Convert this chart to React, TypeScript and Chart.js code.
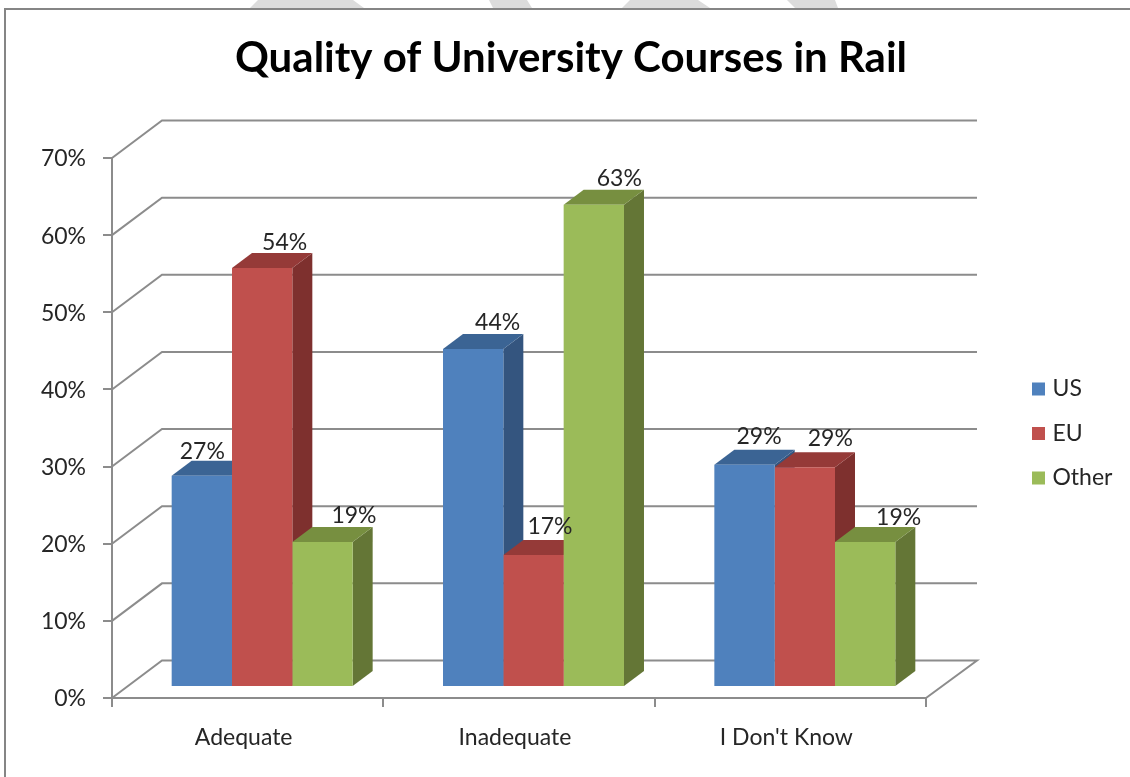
import React, { useEffect, useRef } from "react";
import { Chart, registerables } from "chart.js";

Chart.register(...registerables);

const categories = ["Adequate", "Inadequate", "I Don't Know"];
const seriesNames = ["US", "EU", "Other"];
const usValues = [27.4, 43.8, 28.8];
const euValues = [54.3, 17.1, 28.5];
const otherValues = [18.8, 62.5, 18.8];
const frontColors = ["#4f81bd", "#c0504d", "#9bbb59"];
const topColors = ["#3b6494", "#953a38", "#778f40"];
const sideColors = ["#34557f", "#7e302e", "#647636"];
const labelShiftX = [
  [0, 22, 31],
  [24, 16, 25],
  [14, 25, 33],
];
const labelShiftY = [
  [-24, -26, -26],
  [-27, -29, -26],
  [-28, -29, -24],
];

const GRID = "#8c8c8c";
const FONT = "Lato";
const TEXT = "#262626";

const watermarkPolys = [
  [[258, 0], [353, 0], [364, 8], [250, 8]],
  [[489, 0], [527, 0], [532, 8], [493, 8]],
  [[630, 0], [698, 0], [710, 8], [622, 8]],
  [[787, 0], [835, 0], [838, 8], [795, 8]],
];

const BAR_DX = 14.5;
const BAR_DY = -11;

const threeD = {
  id: "threeD",
  beforeLayout(chart: any) {
    const l = chart.legend;
    if (l && !l.__wrapped) {
      const f = l.fit.bind(l);
      l.fit = () => {
        f();
        l.width = 204;
      };
      l.__wrapped = true;
    }
  },
  afterLayout(chart: any) {
    const pad = chart.options.plugins.legend.labels.padding;
    chart.legend.left = 1036 - pad;
    chart.legend.top = 356;
    chart.legend.bottom = 700;
    chart.titleBlock.left = 6;
    chart.titleBlock.right = 1136;
  },
  beforeDraw(chart: any) {
    const ctx = chart.ctx;
    ctx.save();
    ctx.fillStyle = "#ffffff";
    ctx.fillRect(0, 0, chart.width, chart.height);
    ctx.fillStyle = "#dcdcdc";
    for (const p of watermarkPolys) {
      ctx.beginPath();
      p.forEach(([x, y], i) => (i ? ctx.lineTo(x, y) : ctx.moveTo(x, y)));
      ctx.closePath();
      ctx.fill();
    }
    ctx.strokeStyle = "#858585";
    ctx.lineWidth = 2;
    ctx.beginPath();
    ctx.moveTo(5, chart.height);
    ctx.lineTo(5, 9);
    ctx.lineTo(chart.width, 9);
    ctx.stroke();
    ctx.restore();
  },
  beforeDatasetsDraw(chart: any) {
    const ctx = chart.ctx;
    const yS = chart.scales.y;
    const { left, right } = chart.chartArea;
    const wallDx = 50;
    const wallDy = 37.5;
    ctx.save();
    ctx.strokeStyle = GRID;
    ctx.lineWidth = 2;
    for (const t of yS.ticks) {
      const y = yS.getPixelForValue(t.value);
      ctx.beginPath();
      ctx.moveTo(left, y);
      ctx.lineTo(left + wallDx, y - wallDy);
      ctx.lineTo(right + wallDx + 1, y - wallDy);
      if (t.value === 0) ctx.lineTo(right, y);
      ctx.stroke();
    }
    ctx.restore();

    const depthX = 20;
    const depthY = -15;
    ctx.save();
    ctx.translate(BAR_DX, BAR_DY);
    categories.forEach((_, c) => {
      seriesNames.forEach((__, s) => {
        const bar = chart.getDatasetMeta(s).data[c];
        const p = bar.getProps(["x", "y", "base", "width"], true);
        const l = p.x - p.width / 2;
        const r = p.x + p.width / 2;
        ctx.fillStyle = sideColors[s];
        ctx.beginPath();
        ctx.moveTo(r, p.y);
        ctx.lineTo(r + depthX, p.y + depthY);
        ctx.lineTo(r + depthX, p.base + depthY);
        ctx.lineTo(r, p.base);
        ctx.closePath();
        ctx.fill();
        ctx.fillStyle = topColors[s];
        ctx.beginPath();
        ctx.moveTo(l, p.y);
        ctx.lineTo(l + depthX, p.y + depthY);
        ctx.lineTo(r + depthX, p.y + depthY);
        ctx.lineTo(r, p.y);
        ctx.closePath();
        ctx.fill();
      });
    });
    ctx.restore();
    ctx.save();
    ctx.translate(BAR_DX, BAR_DY);
  },
  afterDatasetsDraw(chart: any) {
    const ctx = chart.ctx;
    ctx.restore();
    ctx.save();
    ctx.font = `23px ${FONT}`;
    ctx.fillStyle = TEXT;
    ctx.textAlign = "center";
    ctx.textBaseline = "middle";
    categories.forEach((_, c) => {
      seriesNames.forEach((__, s) => {
        const bar = chart.getDatasetMeta(s).data[c];
        const v = chart.data.datasets[s].data[c];
        ctx.fillText(
          `${Math.round(v)}%`,
          bar.x + 15 + labelShiftX[c][s],
          bar.y + BAR_DY + labelShiftY[c][s]
        );
      });
    });
    ctx.restore();
  },
};

export default function App() {
  const ref = useRef<HTMLCanvasElement>(null);
  useEffect(() => {
    const tickFont = { family: FONT, size: 23 };
    const chart = new Chart(ref.current!, {
      type: "bar",
      data: {
        labels: categories,
        datasets: [usValues, euValues, otherValues].map((data, i) => ({
          label: seriesNames[i],
          data,
          backgroundColor: frontColors[i],
          borderWidth: 0,
          categoryPercentage: 0.667,
          barPercentage: 1,
          clip: false as any,
        })),
      },
      options: {
        responsive: false,
        animation: false,
        layout: { padding: 0 },
        plugins: {
          tooltip: { enabled: false },
          title: {
            display: true,
            text: "Quality of University Courses in Rail",
            color: "#000000",
            font: { family: FONT, size: 42, weight: "bold", lineHeight: 1 },
            padding: { top: 37, bottom: 79 },
          },
          legend: {
            position: "right",
            align: "start",
            labels: {
              boxWidth: 5,
              boxHeight: 5,
              padding: 21.5,
              color: TEXT,
              font: { family: FONT, size: 23, lineHeight: 1.2 },
              generateLabels: (c: any) =>
                (Chart.defaults.plugins.legend.labels as any)
                  .generateLabels(c)
                  .map((item: any) => ({ ...item, lineWidth: 8, strokeStyle: item.fillStyle })),
            },
          },
        },
        scales: {
          x: {
            afterFit: (s: any) => {
              s.height = 79;
            },
            grid: { drawOnChartArea: false, color: GRID, lineWidth: 2, tickLength: 9 },
            border: { color: GRID, width: 2 },
            ticks: {
              color: TEXT,
              font: tickFont,
              padding: 17,
              labelOffset: -4,
              maxRotation: 0,
              autoSkip: false,
            },
          },
          y: {
            min: 0,
            max: 70,
            afterFit: (s: any) => {
              s.width = 112;
            },
            grid: { drawOnChartArea: false, color: GRID, lineWidth: 2, tickLength: 9 },
            border: { color: GRID, width: 2 },
            ticks: {
              color: TEXT,
              font: tickFont,
              stepSize: 10,
              padding: 17,
              labelOffset: 1,
              callback: (v: any) => `${v}%`,
            },
          },
        },
      },
      plugins: [threeD as any],
    });
    return () => chart.destroy();
  }, []);
  return (
    <canvas
      ref={ref}
      width={1130}
      height={777}
      style={{ position: "fixed", left: 0, top: 0, width: 1130, height: 777, filter: "blur(0.5px)" }}
    />
  );
}
